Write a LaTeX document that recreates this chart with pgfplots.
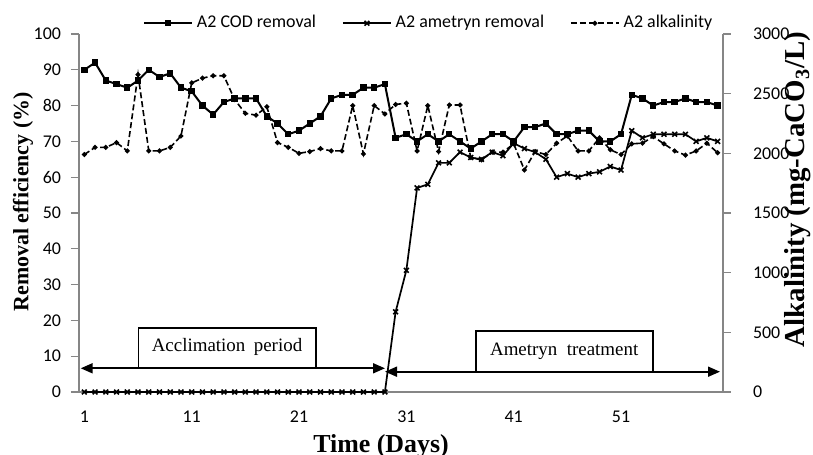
\documentclass[border=0pt]{standalone}
\usepackage{fontspec}
\setmainfont{Liberation Serif}
\newfontfamily\carlito{Carlito}
\usepackage{pgfplots}
\usepackage{pgfplotstable}
\pgfplotsset{compat=1.18}
\usetikzlibrary{arrows.meta}

\definecolor{axisgray}{RGB}{134,134,134}

\pgfplotstableread{
day cod ame alk
1 90 0 1990
2 92 0 2050
3 87 0 2050
4 86 0 2090
5 85 0 2020
6 87 0 2660
7 90 0 2020
8 88 0 2020
9 89 0 2050
10 85 0 2145
11 84 0 2590
12 80 0 2630
13 77.5 0 2650
14 81 0 2650
15 82 0 2450
16 82 0 2335
17 82 0 2320
18 77 0 2390
19 75 0 2090
20 72 0 2050
21 73 0 2000
22 75 0 2015
23 77 0 2040
24 82 0 2020
25 83 0 2020
26 83 0 2400
27 85 0 1995
28 85 0 2400
29 86 0 2330
30 71 22.4 2410
31 72 34 2420
32 70 57 2020
33 72 58 2400
34 70 64 2015
35 72 64 2405
36 70 67 2405
37 68 65.5 1965
38 70 65 1945
39 72 67 2010
40 72 66 2010
41 70 69.5 2080
42 74 68 1860
43 74 67 2015
44 75 65 1990
45 72 60 2085
46 72 61 2145
47 73 60 2020
48 73 61 2020
49 70 61.5 2130
50 70 63 2030
51 72 62 1990
52 83 73 2080
53 82 71 2085
54 80 72 2140
55 81 72 2080
56 81 72 2020
57 82 72 1985
58 81 70 2020
59 81 71 2085
60 80 70 2005
}\datatable

\pgfplotsset{
  codstyle/.style={black, line width=1bp, mark=square*, mark size=1.1bp, mark options={solid}},
  amestyle/.style={black, line width=0.85bp, mark=x, mark size=1.7bp, mark options={solid, line width=0.8bp}},
  alkstyle/.style={black, line width=0.8bp, dash pattern=on 3bp off 1.5bp, mark=*, mark size=0.8bp, mark options={solid}},
  common/.style={
    scale only axis, width=322bp, height=179bp,
    xmin=0.5, xmax=60.5, clip=false,
    at={(0,0)}, anchor=south west,
    axis line style={axisgray, line width=0.6bp},
    tick style={axisgray, line width=0.6bp},
    tick align=outside, major tick length=4bp,
    ticklabel style={font=\fontsize{9}{10}\selectfont\carlito},
    /pgf/number format/assume math mode=true,
    /pgf/number format/1000 sep={},
    scaled y ticks=false,
  },
}

\begin{document}
\begin{tikzpicture}
\useasboundingbox (-39.5bp,-31.5bp) rectangle (367bp,196bp);
\begin{axis}[common,
  axis y line*=left, axis x line*=bottom,
  ymin=0, ymax=100, ytick={0,10,...,100},
  xtick={1,11,21,31,41,51},
  x tick style={draw=none},
  xticklabel style={yshift=-2bp},
  yticklabel style={xshift=-1.5bp},
  xlabel={\textbf{Time (Days)}},
  ylabel={\textbf{Removal efficiency (\%)}},
  every axis x label/.style={at={(axis description cs:0.469,-0.151)}, anchor=center, font=\fontsize{13}{15}\selectfont},
  every axis y label/.style={at={(axis description cs:-0.087,0.531)}, anchor=center, rotate=90, font=\fontsize{11}{13}\selectfont},
]
\addplot[codstyle] table[x=day, y=cod] {\datatable};
\addplot[amestyle] table[x=day, y=ame] {\datatable};
\end{axis}
\begin{axis}[common,
  axis y line*=right, axis x line=none,
  ymin=0, ymax=3000, ytick={0,500,...,3000},
  yticklabel style={xshift=7.5bp},
  ylabel={\textbf{Alkalinity (mg-CaCO\textsubscript{3}/L)}},
  every axis y label/.style={at={(axis description cs:1.1165,0.566)}, anchor=center, rotate=90, font=\fontsize{14.5}{16}\selectfont},
  legend columns=3,
  legend cell align=left,
  legend style={at={(axis description cs:0.0994,1.030)}, anchor=west, draw=none, fill=none,
    inner sep=0pt, outer sep=0pt,
    font=\fontsize{9}{10}\selectfont\carlito,
    /tikz/every even column/.append style={column sep=11bp}},
  legend image code/.code={\draw[mark repeat=2, mark phase=2, #1] plot coordinates {(0bp,0bp) (12bp,0bp) (24bp,0bp)};},
]
\addlegendimage{codstyle}
\addlegendentry{A2 COD removal}
\addlegendimage{amestyle}
\addlegendentry{A2 ametryn removal}
\addplot[alkstyle] table[x=day, y=alk] {\datatable};
\addlegendentry{A2 alkalinity}
\end{axis}
% annotation boxes and arrows
\draw[black, line width=0.8bp, fill=white] (29.65bp,11.85bp) rectangle (118.35bp,31.85bp);
\node[font=\fontsize{9.5}{11}\selectfont] at (74bp,22.3bp) {Acclimation\hspace{0.45em}period};
\draw[black, line width=0.9bp, {Triangle[length=6bp,width=5bp]}-{Triangle[length=6bp,width=5bp]}] (0.85bp,11.85bp) -- (153bp,11.85bp);
\draw[black, line width=0.8bp, fill=white] (198.35bp,10.15bp) rectangle (286.85bp,30.5bp);
\node[font=\fontsize{9.5}{11}\selectfont] at (242.6bp,20.6bp) {Ametryn\hspace{0.5em}treatment};
\draw[black, line width=0.9bp, {Triangle[length=6bp,width=5bp]}-{Triangle[length=6bp,width=5bp]}] (153bp,10.15bp) -- (320.5bp,10.15bp);
\end{tikzpicture}
\end{document}
